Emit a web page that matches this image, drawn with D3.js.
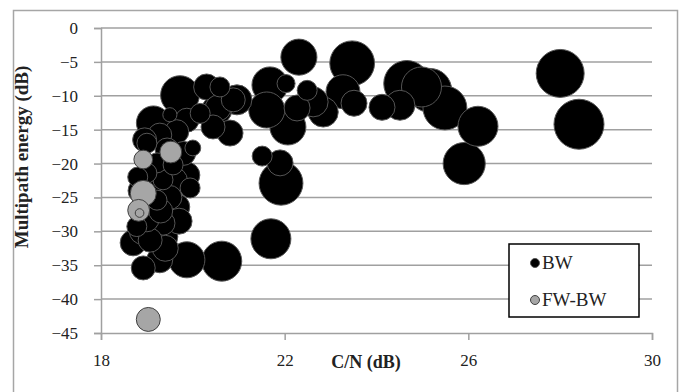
<!DOCTYPE html>
<html>
<head>
<meta charset="utf-8">
<script src="https://cdn.jsdelivr.net/npm/d3@7"></script>
<style>
  body { margin: 0; background: #fff; }
  svg text { font-family: "Liberation Serif", "Times New Roman", serif; fill: #222; }
</style>
</head>
<body>
<div id="chart"></div>
<script>
// series: [C/N, multipath energy, bubble size]
var bwX = [19.72, 20.30, 20.55, 20.88, 20.81, 20.44, 20.16, 19.14, 19.50, 19.87,
           19.65, 19.28, 19.00, 20.00, 19.87, 19.94, 19.65, 19.35, 19.39, 18.70,
           19.07, 18.92, 19.28, 19.87, 20.63, 19.35, 19.22, 19.57, 19.00, 18.78,
           19.22, 19.00, 19.44, 22.31, 23.47, 23.27, 23.51, 24.12, 24.66, 24.51,
           25.16, 21.68, 22.03, 22.49, 22.07, 21.61, 22.84, 22.62, 22.27, 21.51,
           21.90, 21.92, 21.70, 20.96, 20.59, 20.52, 28.00, 28.41, 26.21, 25.91,
           25.49, 24.98, 18.85, 19.10, 18.95, 19.60, 19.20, 19.50, 18.90, 19.30,
           19.10, 19.80, 19.40, 18.80, 19.70];
var bwY = [-9.9, -8.7, -11.8, -10.6, -15.5, -14.6, -12.6, -14.0, -12.8, -13.6,
           -15.3, -15.8, -17.0, -17.7, -21.7, -23.6, -26.4, -28.8, -30.8, -31.7,
           -31.3, -35.4, -34.2, -34.2, -34.4, -22.4, -19.9, -20.2, -28.3, -29.3,
           -25.4, -21.4, -18.0, -4.3, -5.2, -9.4, -11.1, -11.7, -8.2, -11.4,
           -9.2, -8.4, -8.2, -9.2, -14.6, -12.1, -12.4, -10.9, -11.8, -18.9,
           -19.9, -22.9, -31.1, -10.6, -8.7, -12.1, -6.7, -14.2, -14.5, -20.0,
           -11.8, -8.7, -24.0, -26.0, -16.5, -22.5, -24.0, -25.0, -30.0, -27.0,
           -20.5, -18.5, -32.5, -22.0, -28.5];
var bwSize = [60, 27, 27, 23, 27, 23, 16, 46, 8, 23,
              23, 23, 16, 10, 27, 16, 27, 23, 27, 27,
              23, 23, 27, 52, 64, 16, 16, 16, 23, 16,
              16, 16, 23, 52, 80, 46, 27, 27, 85, 36,
              77, 52, 13, 16, 52, 52, 36, 36, 27, 16,
              27, 77, 64, 36, 16, 36, 92, 100, 64, 71,
              77, 64, 23, 27, 23, 27, 23, 23, 27, 23,
              23, 23, 27, 16, 27];

var fwX = [18.92, 19.52, 18.92, 18.82, 18.84, 19.03];
var fwY = [-19.4, -18.3, -24.4, -26.9, -27.3, -43.0];
var fwSize = [14, 19, 27, 19, 3, 23];

var xTicks = [18, 22, 26, 30];
var yTicks = [0, -5, -10, -15, -20, -25, -30, -35, -40, -45];

var width = 679, height = 392;
var margin = {top: 28, right: 27, bottom: 59, left: 101};

var svg = d3.select("#chart").append("svg")
  .attr("width", width)
  .attr("height", height);

// chart area border
svg.append("rect")
  .attr("x", 13.5).attr("y", 10.5)
  .attr("width", 664).attr("height", 395)
  .attr("fill", "#fff")
  .attr("stroke", "#a6a6a6")
  .attr("stroke-width", 1.5);

var xScale = d3.scaleLinear().domain([18, 30]).range([margin.left, width - margin.right]);
var yScale = d3.scaleLinear().domain([-45, 0]).range([height - margin.bottom, margin.top]);
var rScale = d3.scaleSqrt().domain([0, 100]).range([0, 25]);

// horizontal gridlines with ticks
var yAxis = svg.append("g")
  .attr("transform", "translate(" + margin.left + ",0)")
  .call(d3.axisLeft(yScale).tickValues(yTicks).tickSize(7).tickPadding(16)
    .tickFormat(d3.format("d")));
yAxis.select(".domain").attr("stroke", "#a0a0a0").attr("stroke-width", 1.5);
yAxis.selectAll(".tick line").attr("stroke", "#a0a0a0").attr("stroke-width", 1.5);
yAxis.selectAll(".tick text").style("font-size", "17px").attr("fill", "#222");

svg.append("g").selectAll("line")
  .data(yTicks.filter(function(d) { return d !== -45; }))
  .enter().append("line")
  .attr("x1", margin.left).attr("x2", xScale(30))
  .attr("y1", function(d) { return yScale(d); })
  .attr("y2", function(d) { return yScale(d); })
  .attr("stroke", "#a0a0a0")
  .attr("stroke-width", 1.5);

var xAxis = svg.append("g")
  .attr("transform", "translate(0," + yScale(-45) + ")")
  .call(d3.axisBottom(xScale).tickValues(xTicks).tickSize(7).tickPadding(14)
    .tickFormat(d3.format("d")));
xAxis.select(".domain").attr("stroke", "#a0a0a0").attr("stroke-width", 1.5);
xAxis.selectAll(".tick line").attr("stroke", "#a0a0a0").attr("stroke-width", 1.5);
xAxis.selectAll(".tick text").style("font-size", "17px").attr("fill", "#222");

// bubbles
function toRows(xs, ys, ss) {
  return xs.map(function(x, i) { return {x: x, y: ys[i], s: ss[i]}; })
    .sort(function(a, b) { return b.s - a.s; });
}

svg.append("g").selectAll("circle")
  .data(toRows(bwX, bwY, bwSize))
  .enter().append("circle")
  .attr("cx", function(d) { return xScale(d.x); })
  .attr("cy", function(d) { return yScale(d.y); })
  .attr("r", function(d) { return rScale(d.s); })
  .attr("fill", "#000")
  .attr("stroke", "#555")
  .attr("stroke-width", 1);

svg.append("g").selectAll("circle")
  .data(toRows(fwX, fwY, fwSize))
  .enter().append("circle")
  .attr("cx", function(d) { return xScale(d.x); })
  .attr("cy", function(d) { return yScale(d.y); })
  .attr("r", function(d) { return rScale(d.s); })
  .attr("fill", "#a6a6a6")
  .attr("stroke", "#404040")
  .attr("stroke-width", 1);

// axis titles
svg.append("text")
  .attr("x", 366).attr("y", 368)
  .attr("text-anchor", "middle")
  .style("font-size", "18px").style("font-weight", "bold")
  .text("C/N (dB)");

svg.append("text")
  .attr("transform", "translate(28,157) rotate(-90)")
  .attr("text-anchor", "middle")
  .style("font-size", "19px").style("font-weight", "bold")
  .text("Multipath energy (dB)");

// legend
var legend = svg.append("g");
legend.append("rect")
  .attr("x", 509).attr("y", 244)
  .attr("width", 130).attr("height", 73)
  .attr("fill", "#fff")
  .attr("stroke", "#000")
  .attr("stroke-width", 1.5);

var legendItems = [
  {name: "BW", fill: "#000", stroke: "#555"},
  {name: "FW-BW", fill: "#a6a6a6", stroke: "#404040"}
];
legend.selectAll("g.item")
  .data(legendItems)
  .enter().append("g")
  .attr("class", "item")
  .attr("transform", function(d, i) { return "translate(535," + (263 + i * 37) + ")"; })
  .each(function(d) {
    var g = d3.select(this);
    g.append("circle").attr("r", 4.5).attr("fill", d.fill).attr("stroke", d.stroke);
    g.append("text").attr("x", 7).attr("y", 6)
      .style("font-size", "19px").text(d.name);
  });
</script>
</body>
</html>
